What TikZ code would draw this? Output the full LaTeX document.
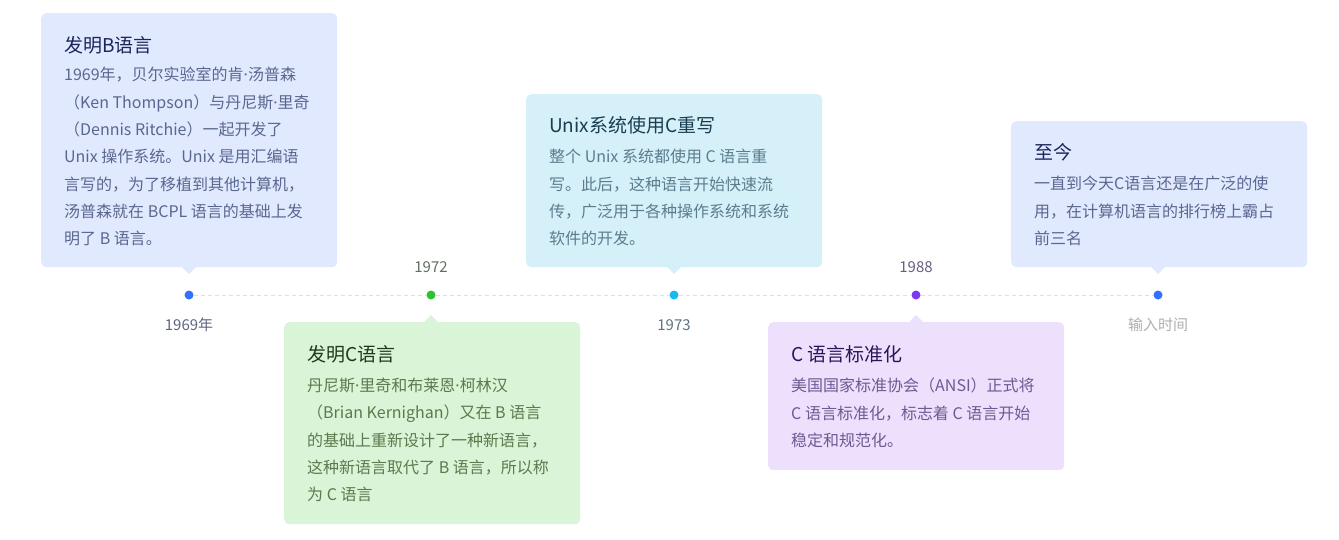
\documentclass[tikz,border=0pt]{standalone}
\usepackage{fontspec}
\setmainfont{Noto Sans CJK SC}
\newfontfamily\latinf{Noto Sans}
\newcommand{\mdot}{{\latinf ·}}
\definecolor{fillA}{HTML}{E1E9FF}
\definecolor{fillB}{HTML}{D9F4D6}
\definecolor{fillC}{HTML}{D6F0FA}
\definecolor{fillD}{HTML}{ECE0FC}
\definecolor{titA}{HTML}{1B2559}
\definecolor{titB}{HTML}{1F3A1A}
\definecolor{titC}{HTML}{1A3D50}
\definecolor{titD}{HTML}{2B1559}
\definecolor{bodA}{HTML}{5A678F}
\definecolor{bodB}{HTML}{5B7A4E}
\definecolor{bodC}{HTML}{5A7D8E}
\definecolor{bodD}{HTML}{6E5A93}
\definecolor{labA}{HTML}{5E6680}
\definecolor{labB}{HTML}{5E7060}
\definecolor{labC}{HTML}{5E7480}
\definecolor{labD}{HTML}{6A5E80}
\definecolor{labE}{HTML}{AEAEAE}
\definecolor{dotA}{HTML}{3370FF}
\definecolor{dotB}{HTML}{2EC32E}
\definecolor{dotC}{HTML}{1AB8F0}
\definecolor{dotD}{HTML}{7B3AF2}
\definecolor{lineG}{HTML}{E0E0E0}
\begin{document}
\begin{tikzpicture}[x=1pt,y=-1pt,
  card/.style={anchor=north west,inner sep=0pt,rounded corners=5pt,minimum width=296pt},
  ctitle/.style={anchor=north west,inner sep=0pt,font=\fontsize{19}{22}\selectfont},
  cbody/.style={anchor=north west,inner sep=0pt,align=left,font=\fontsize{16}{27.3}\selectfont},
  ylab/.style={inner sep=0pt,font=\fontsize{15}{18}\selectfont},
  tdot/.style={circle,inner sep=0pt,minimum size=9pt}]
\useasboundingbox (0,0) rectangle (1339,539);

% timeline
\node[tdot,fill=dotA] (d1) at (189,295) {};
\node[tdot,fill=dotB] (d2) at (431,295) {};
\node[tdot,fill=dotC] (d3) at (674,295) {};
\node[tdot,fill=dotD] (d4) at (916,295) {};
\node[tdot,fill=dotA] (d5) at (1158,295) {};
\draw[lineG,line width=1pt,dash pattern=on 4pt off 3pt] (d1) -- (d2) -- (d3) -- (d4) -- (d5);

\node[ylab,text=labA] (y1) at (189,325) {1969年};
\node[ylab,text=labB] (y2) at (431,267) {1972};
\node[ylab,text=labC] (y3) at (674,325) {1973};
\node[ylab,text=labD] (y4) at (916,267) {1988};
\node[ylab,text=labE] (y5) at (1158,325) {输入时间};

% cards
\node[card,fill=fillA,minimum height=254pt] (c1) at (41,13) {};
\fill[fillA] (181,266) -- (189,274) -- (197,266) -- cycle;
\node[card,fill=fillB,minimum height=202pt] (c2) at (284,322) {};
\fill[fillB] (423,323) -- (431,315) -- (439,323) -- cycle;
\node[card,fill=fillC,minimum height=173pt] (c3) at (526,94) {};
\fill[fillC] (666,266) -- (674,274) -- (682,266) -- cycle;
\node[card,fill=fillD,minimum height=148pt] (c4) at (768,322) {};
\fill[fillD] (908,323) -- (916,315) -- (924,323) -- cycle;
\node[card,fill=fillA,minimum height=146pt] (c5) at (1011,121) {};
\fill[fillA] (1150,266) -- (1158,274) -- (1166,266) -- cycle;

% card 1
\node[ctitle,text=titA] (t1) at (64,36) {发明B语言};
\node[cbody,text=bodA] (b1) at (64,67) {1969年，贝尔实验室的肯\mdot 汤普森\\（Ken Thompson）与丹尼斯\mdot 里奇\\（Dennis Ritchie）一起开发了\\Unix 操作系统。Unix 是用汇编语\\言写的，为了移植到其他计算机，\\汤普森就在 BCPL 语言的基础上发\\明了 B 语言。};

% card 2
\node[ctitle,text=titB] (t2) at (307,345) {发明C语言};
\node[cbody,text=bodB] (b2) at (307,378) {丹尼斯\mdot 里奇和布莱恩\mdot 柯林汉\\（Brian Kernighan）又在 B 语言\\的基础上重新设计了一种新语言，\\这种新语言取代了 B 语言，所以称\\为 C 语言};

% card 3
\node[ctitle,text=titC] (t3) at (549,116) {Unix系统使用C重写};
\node[cbody,text=bodC] (b3) at (549,149) {整个 Unix 系统都使用 C 语言重\\写。此后，这种语言开始快速流\\传，广泛用于各种操作系统和系统\\软件的开发。};

% card 4
\node[ctitle,text=titD] (t4) at (791,345) {C 语言标准化};
\node[cbody,text=bodD] (b4) at (791,378) {美国国家标准协会（ANSI）正式将\\C 语言标准化，标志着 C 语言开始\\稳定和规范化。};

% card 5
\node[ctitle,text=titA] (t5) at (1034,143) {至今};
\node[cbody,text=bodA] (b5) at (1034,176) {一直到今天C语言还是在广泛的使\\用，在计算机语言的排行榜上霸占\\前三名};
\end{tikzpicture}
\end{document}
